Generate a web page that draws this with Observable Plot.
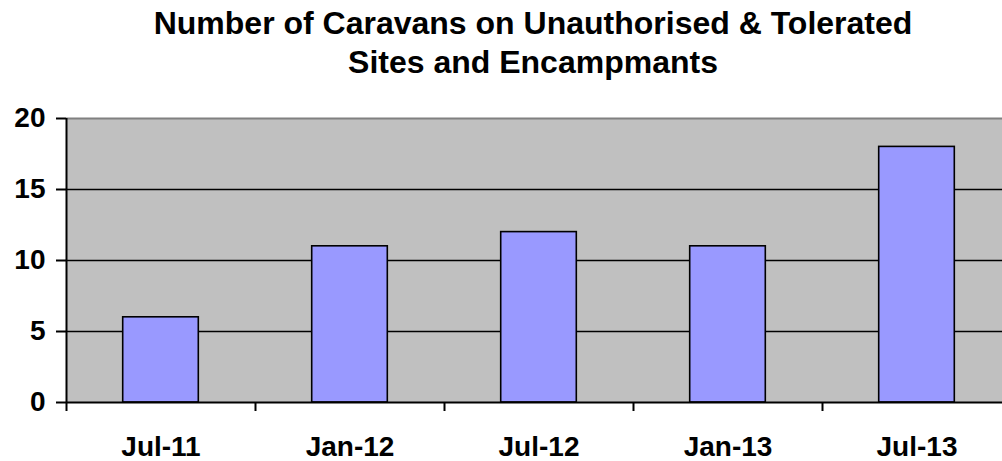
<!DOCTYPE html>
<html>
<head>
<meta charset="utf-8">
<script src="https://cdn.jsdelivr.net/npm/d3@7"></script>
<script src="https://cdn.jsdelivr.net/npm/@observablehq/plot@0.6"></script>
<style>
  html, body { margin: 0; padding: 0; background: #fff; overflow: hidden; }
  #title {
    width: 1002px; height: 100px; box-sizing: border-box;
    padding-left: 64px; padding-top: 4px;
    text-align: center; font-family: "Liberation Sans", Arial, sans-serif;
    font-weight: bold; font-size: 32px; line-height: 39px; color: #000;
  }
</style>
</head>
<body>
<div id="title">Number of Caravans on Unauthorised &amp; Tolerated<br>Sites and Encampmants</div>
<div id="chart"></div>
<script>
const categories = ["Jul-11", "Jan-12", "Jul-12", "Jan-13", "Jul-13"];
const values = [6, 11, 12, 11, 18];
const yTicks = [0, 5, 10, 15, 20];
const gridLines = [5, 10, 15];

const data = categories.map((c, i) => ({cat: c, i, value: values[i]}));
const boundaries = d3.range(0, categories.length + 1);
const centers = categories.map((c, i) => i + 0.5);

const font = {fontSize: 28, fontWeight: "bold", fontFamily: "Liberation Sans, Arial, sans-serif"};

const chart = Plot.plot({
  width: 1002,
  height: 361,
  marginTop: 18,
  marginBottom: 59,
  marginLeft: 66,
  marginRight: -9,
  style: {background: "transparent", fontFamily: "Liberation Sans, Arial, sans-serif", overflow: "hidden"},
  x: {type: "linear", domain: [0, categories.length]},
  y: {domain: [0, 20]},
  marks: [
    Plot.frame({fill: "#c0c0c0", stroke: null}),
    Plot.ruleY([20], {stroke: "#808080", strokeWidth: 2}),
    Plot.ruleY(gridLines, {stroke: "#000", strokeWidth: 1.6}),
    Plot.rectY(data, {x1: d => d.i + 0.3, x2: d => d.i + 0.7, y: "value", fill: "#9999ff", stroke: "#000", strokeWidth: 1.6}),
    Plot.ruleY([0], {stroke: "#000", strokeWidth: 2}),
    Plot.ruleX([0], {stroke: "#000", strokeWidth: 2}),
    Plot.axisY(yTicks, {tickSize: 10, tickPadding: 11, stroke: "#000", strokeWidth: 2, strokeOpacity: 1, tickFormat: d => String(d), ...font, fill: "#000", label: null}),
    Plot.axisX(boundaries, {tickSize: 9, tickFormat: () => "", stroke: "#000", strokeWidth: 2, strokeOpacity: 1, label: null}),
    Plot.axisX(centers, {tickSize: 0, tickPadding: 34, tickFormat: d => categories[Math.round(d - 0.5)], ...font, fill: "#000", label: null})
  ]
});
document.getElementById("chart").appendChild(chart);
</script>
</body>
</html>
